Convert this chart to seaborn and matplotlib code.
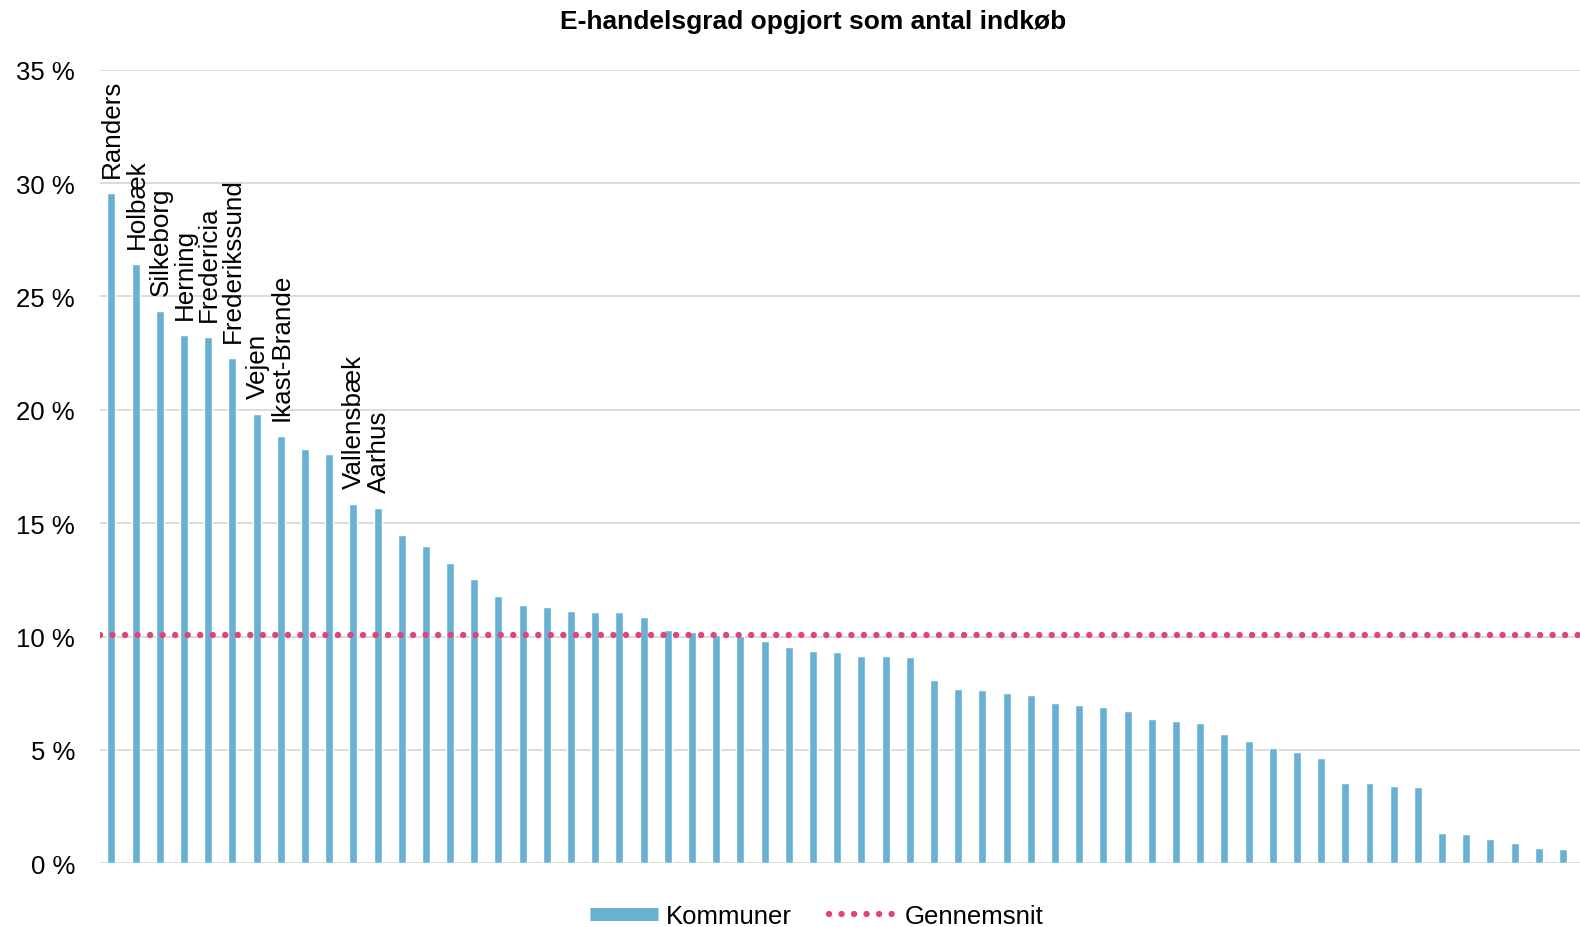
import matplotlib
matplotlib.use("Agg")
import matplotlib.pyplot as plt
import seaborn as sns
import pandas as pd
from matplotlib.lines import Line2D

# E-handelsgrad per kommune (sorted), in percent
values = [
    29.55, 26.41, 24.38, 23.30, 23.23, 22.29, 19.81, 18.85, 18.28, 18.05,
    15.85, 15.67, 14.47, 14.01, 13.23, 12.54, 11.80, 11.41, 11.29, 11.14,
    11.10, 11.07, 10.88, 10.30, 10.22, 10.07, 10.03, 9.81, 9.56, 9.36,
    9.32, 9.14, 9.14, 9.11, 8.10, 7.67, 7.63, 7.53, 7.42, 7.09,
    7.00, 6.89, 6.72, 6.37, 6.26, 6.19, 5.70, 5.38, 5.07, 4.92,
    4.63, 3.54, 3.54, 3.41, 3.38, 1.34, 1.28, 1.07, 0.91, 0.69,
    0.62,
]

# names shown above the first bars (None = no label)
top_names = [
    "Randers", "Holbæk", "Silkeborg", "Herning", "Fredericia",
    "Frederikssund", "Vejen", "Ikast-Brande", None, None,
    "Vallensbæk", "Aarhus",
]

average = 10.08
yticks = [0, 5, 10, 15, 20, 25, 30, 35]

bar_color = "#69B1D3"
avg_color = "#E0457A"

df = pd.DataFrame({"pos": list(range(len(values))), "value": values})

sns.set_style("white")
plt.rcParams["font.family"] = ["Liberation Sans", "DejaVu Sans"]
plt.rcParams["text.color"] = "black"
plt.rcParams["ytick.color"] = "black"

fig = plt.figure(figsize=(15.8, 9.28), dpi=100)
ax = fig.add_axes([100 / 1580, 1 - 864.3 / 928, 1 - 100 / 1580, (864.3 - 70.7) / 928])

sns.barplot(data=df, x="pos", y="value", color=bar_color, width=0.33,
            saturation=1, ax=ax, zorder=2)

ax.axhline(average, color=avg_color, lw=4.6, ls=(0, (0.01, 1.95)),
           dash_capstyle="round", zorder=3)

for i, name in enumerate(top_names):
    if name:
        ax.annotate(name, (i, values[i]), xytext=(1, 16), textcoords="offset pixels",
                    rotation=90, ha="center", va="bottom", fontsize=18.7,
                    color="black")

ax.set_ylim(0, 35)
ax.set_xlim(-0.47, 60.7)
ax.set_yticks(yticks)
ax.set_yticklabels([f"{t} %" for t in yticks], fontsize=18.5, color="black")
ax.set_xticks([])
ax.set_xlabel("")
ax.set_ylabel("")
ax.tick_params(axis="y", length=0, pad=18)
ax.grid(axis="y", color="#D9D9D9", lw=1.3, zorder=0)
ax.set_axisbelow(True)
for s in ax.spines.values():
    s.set_visible(False)

fig.text(0.5145, 1 - 22 / 928, "E-handelsgrad opgjort som antal indkøb",
         ha="center", va="center", fontsize=19, fontweight="bold", color="black")

handles = [
    Line2D([], [], color=bar_color, lw=9.4, solid_capstyle="butt"),
    Line2D([], [], color=avg_color, lw=4.6, ls=(0, (0.01, 1.95)), dash_capstyle="round"),
]
fig.legend(handles, ["Kommuner", "Gennemsnit"], loc="center", ncol=2,
           bbox_to_anchor=(817 / 1580, 1 - 917 / 928), frameon=False,
           fontsize=18.5, handlelength=2.65, handletextpad=0.31, columnspacing=1.44)

fig.savefig("out.png", dpi=100)
